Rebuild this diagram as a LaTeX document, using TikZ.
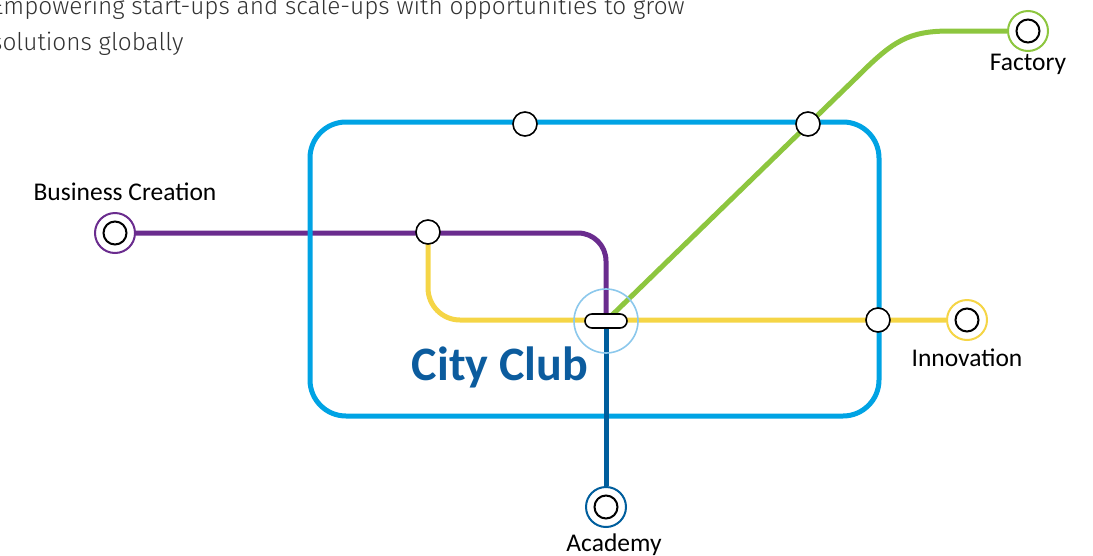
\documentclass[tikz,border=0pt]{standalone}
\usepackage{fontspec}
\setmainfont{Carlito}
\newfontfamily\headfont{Fira Sans}[UprightFont={* Light}]
\usetikzlibrary{positioning}

\definecolor{clubblue}{RGB}{0,163,228}
\definecolor{bizpurple}{RGB}{106,44,142}
\definecolor{innoyellow}{RGB}{245,213,70}
\definecolor{facgreen}{RGB}{141,198,63}
\definecolor{acadblue}{RGB}{0,94,157}
\definecolor{hubring}{RGB}{140,200,236}
\definecolor{clubtext}{RGB}{12,92,158}
\definecolor{headgrey}{RGB}{50,50,50}

\tikzset{
  station/.style={circle,draw=black,line width=1.6pt,fill=white,minimum size=24pt,inner sep=0pt},
  terminus/.style={circle,draw=#1,line width=2pt,fill=white,minimum size=40pt,inner sep=0pt},
  core/.style={circle,draw=black,line width=2pt,minimum size=23pt,inner sep=0pt},
  metro/.style={line width=5pt,draw=#1},
  place/.style={font=\fontsize{25.5}{30}\selectfont,text=black,inner sep=0pt},
  intro/.style={font=\headfont\fontsize{24.4}{36}\selectfont,text=headgrey,anchor=base west,inner sep=0pt},
}

\begin{document}
\begin{tikzpicture}[x=1pt,y=-1pt]
\useasboundingbox (0,0) rectangle (1093,555);

% intro text at the top, cut at the page edge
\node[intro] (intro1) at (-9,14) {Empowering start-ups and scale-ups with opportunities to grow};
\node[intro] (intro2) at (-9,50) {solutions globally};

% end stations
\node[terminus=bizpurple] (biz) at (115,233) {};
\node[terminus=facgreen] (fac) at (1028,31) {};
\node[terminus=innoyellow] (inno) at (967,320) {};
\node[terminus=acadblue] (acad) at (606,507) {};
\coordinate (hub) at (606,321);

% lines
\draw[metro=bizpurple,rounded corners=28] (biz) -- (606,233) -- (hub);
\draw[clubblue,line width=5pt,rounded corners=36] (310,122) rectangle (879,416);
\draw[metro=innoyellow,rounded corners=32] (428,232) -- (428,320) -- (inno);
\draw[metro=facgreen] (hub) -- (857,77) .. controls (893,41) and (908,31) .. (950,31) -- (fac);
\draw[metro=acadblue] (hub) -- (acad);

% stops
\node[station] (top) at (525,124) {};
\node[station] (topright) at (808,124) {};
\node[station] (split) at (428,232) {};
\node[station] (edge) at (878,320) {};

\node[core] at (biz) {};
\node[core] at (fac) {};
\node[core] at (inno) {};
\node[core] at (acad) {};

% interchange
\draw[hubring,line width=1.6pt] (hub) circle (32);
\node[draw=black,fill=white,line width=1.6pt,rounded corners=7,minimum width=42pt,minimum height=14pt,inner sep=0pt] (pill) at (hub) {};

\node[font=\bfseries\fontsize{48}{56}\selectfont,text=clubtext,inner sep=0pt] (club) at (500,367) {City Club};

% names
\node[place] (bizname) at (125,192) {Business Creation};
\node[place] (facname) at (1028,64) {Factory};
\node[place] (innoname) at (967,358) {Innovation};
\node[place] (acadname) at (614,545) {Academy};
\end{tikzpicture}
\end{document}
